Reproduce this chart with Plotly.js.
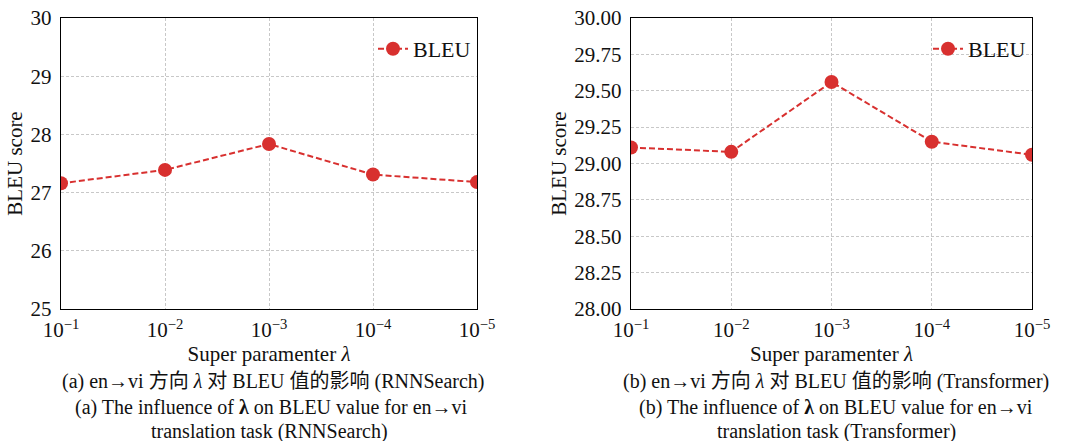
<!DOCTYPE html>
<html><head><meta charset="utf-8">
<script src="https://cdn.plot.ly/plotly-3.0.1.min.js"></script>
<style>html,body{margin:0;padding:0;background:#fff}#c{width:1085px;height:441px}</style>
</head><body><div id="c"></div>
<script>
const lambdaLabels = ['10<sup>−1</sup>','10<sup>−2</sup>','10<sup>−3</sup>','10<sup>−4</sup>','10<sup>−5</sup>'];
const rnnSearchBleu = [27.16, 27.39, 27.835, 27.31, 27.18];
const transformerBleu = [29.11, 29.08, 29.56, 29.15, 29.06];
const rnnTicks = [25, 26, 27, 28, 29, 30];
const trfTicks = [28.00, 28.25, 28.50, 28.75, 29.00, 29.25, 29.50, 29.75, 30.00];

const SERIF = 'Liberation Serif, DejaVu Serif, serif';
const RED = '#d8302f';
const H = 441;
const py = p => 1 - p / H;

function trace(y, xa, ya, lg) {
  return {
    x: lambdaLabels, y: y, xaxis: xa, yaxis: ya, legend: lg,
    type: 'scatter', mode: 'lines+markers', name: 'BLEU', showlegend: true,
    line: {color: RED, width: 2, dash: '6px,3px'},
    marker: {color: RED, size: 14},
    cliponaxis: true
  };
}

function xax(domain, anchor) {
  return {
    domain: domain, anchor: anchor, type: 'category',
    range: [0, 4], showline: true, mirror: true, linecolor: '#000', linewidth: 1.2,
    showgrid: true, gridcolor: '#c8c8c8', griddash: '3px,2px', gridwidth: 1,
    ticks: '', zeroline: false, ticklabelstandoff: 2,
    tickfont: {family: SERIF, size: 21, color: '#111'},
    title: {text: 'Super paramenter <i>λ</i>', font: {family: SERIF, size: 21, color: '#111'}, standoff: 2}
  };
}
function yax(domain, anchor, ticks, fmt) {
  return {
    domain: domain, anchor: anchor, range: [ticks[0], ticks[ticks.length - 1]],
    tickvals: ticks, ticktext: ticks.map(v => v.toFixed(fmt)),
    showline: true, mirror: true, linecolor: '#000', linewidth: 1.2,
    showgrid: true, gridcolor: '#c8c8c8', griddash: '3px,2px', gridwidth: 1,
    ticks: '', zeroline: false, ticklabelstandoff: 4,
    tickfont: {family: SERIF, size: 21, color: '#111'},
    title: {text: 'BLEU score', font: {family: SERIF, size: 21, color: '#111'}, standoff: 2}
  };
}

const yDom = [py(309), py(18)];
const legendStyle = {font: {family: SERIF, size: 22, color: '#111'}, bgcolor: 'rgba(0,0,0,0)', itemwidth: 30,
                     xanchor: 'right', yanchor: 'top', y: py(28), visible: true};
const layout = {
  width: 1085, height: 441,
  margin: {l: 0, r: 0, t: 0, b: 0},
  paper_bgcolor: '#fff', plot_bgcolor: '#fff',
  showlegend: true,
  xaxis: xax([61 / 1085, 477 / 1085], 'y'),
  yaxis: yax(yDom, 'x', rnnTicks, 0),
  xaxis2: xax([631 / 1085, 1032 / 1085], 'y2'),
  yaxis2: yax(yDom, 'x2', trfTicks, 2),
  legend: Object.assign({x: 476 / 1085}, legendStyle),
  legend2: Object.assign({x: 1031 / 1085}, legendStyle),
  annotations: []
};

const CJK = 'Liberation Serif, Noto Sans CJK SC, serif';
const caps = [
  [273, 381, '(a) en→vi 方向 <i>λ</i> 对 BLEU 值的影响 (RNNSearch)'],
  [271, 407, '(a) The influence of <b>λ</b> on BLEU value for en→vi'],
  [269, 431, 'translation task (RNNSearch)'],
  [836, 381, '(b) en→vi 方向 <i>λ</i> 对 BLEU 值的影响 (Transformer)'],
  [836, 407, '(b) The influence of <b>λ</b> on BLEU value for en→vi'],
  [836, 431, 'translation task (Transformer)']
];
caps.forEach(c => layout.annotations.push({
  xref: 'paper', yref: 'paper', x: c[0] / 1085, y: py(c[1]), xanchor: 'center', yanchor: 'middle',
  text: c[2], showarrow: false, font: {family: CJK, size: 20, color: '#111'}
}));

Plotly.newPlot('c', [trace(rnnSearchBleu, 'x', 'y', 'legend'), trace(transformerBleu, 'x2', 'y2', 'legend2')], layout, {staticPlot: true});
</script></body></html>
